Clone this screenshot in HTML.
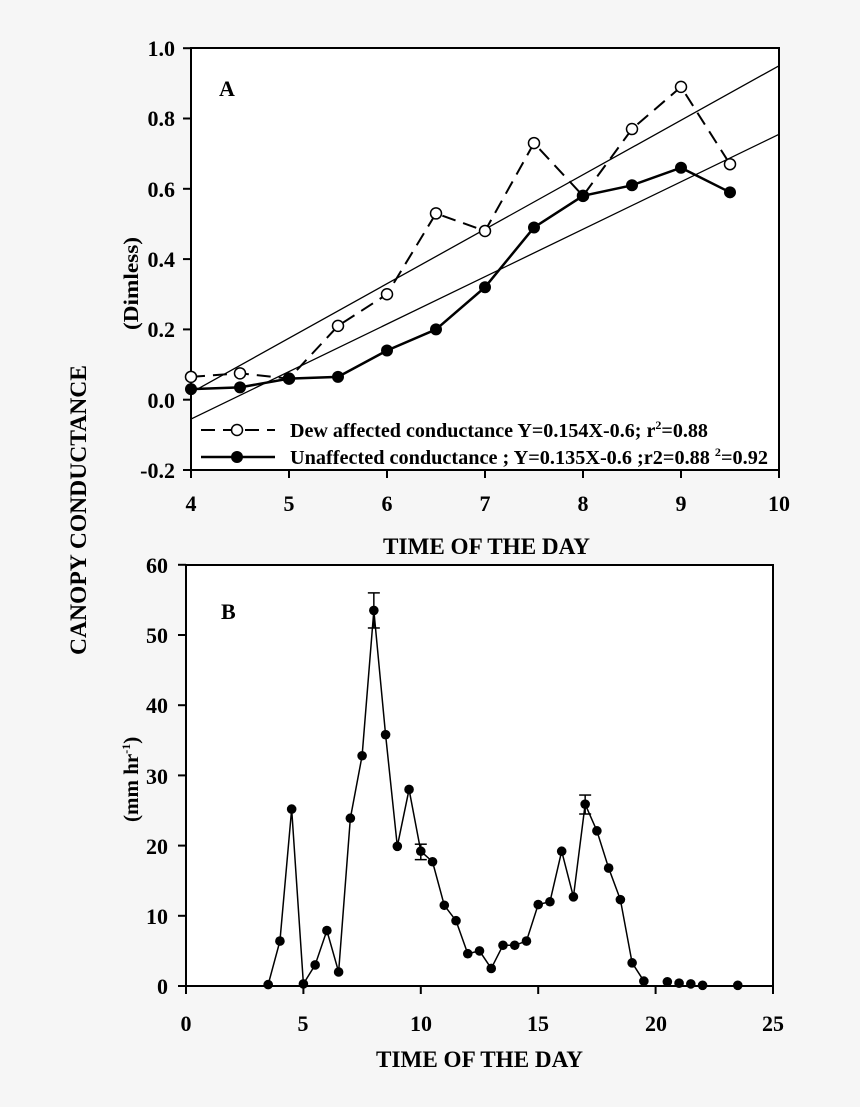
<!DOCTYPE html>
<html><head><meta charset="utf-8"><style>
html,body{margin:0;padding:0;background:#f6f6f6;}
svg{display:block;}
text{font-family:"Liberation Serif",serif;font-weight:bold;fill:#000;}
</style></head><body>
<svg id="s" width="860" height="1107" viewBox="0 0 860 1107" xmlns="http://www.w3.org/2000/svg">
<rect x="0" y="0" width="860" height="1107" fill="#f6f6f6"/>
<!-- Plot A -->
<rect x="191" y="48" width="588" height="422" fill="#fff" stroke="#000" stroke-width="2"/>
<g font-size="22" text-anchor="end">
<text x="175" y="56">1.0</text><text x="175" y="126">0.8</text><text x="175" y="197">0.6</text>
<text x="175" y="267">0.4</text><text x="175" y="337">0.2</text><text x="175" y="408">0.0</text><text x="175" y="478">-0.2</text>
</g>
<g font-size="22" text-anchor="middle">
<text x="191" y="511">4</text><text x="289" y="511">5</text><text x="387" y="511">6</text><text x="485" y="511">7</text>
<text x="583" y="511">8</text><text x="681" y="511">9</text><text x="779" y="511">10</text>
</g>
<text x="383" y="554" font-size="23" textLength="207" lengthAdjust="spacingAndGlyphs">TIME OF THE DAY</text>
<text x="219" y="96" font-size="22">A</text>
<g id="gA"></g>
<!-- legend -->
<line x1="201" y1="430" x2="275" y2="430" stroke="#000" stroke-width="2" stroke-dasharray="14,8"/>
<circle cx="237" cy="430" r="5.5" fill="#fff" stroke="#000" stroke-width="1.5"/>
<line x1="201" y1="457" x2="275" y2="457" stroke="#000" stroke-width="2.5"/>
<circle cx="237" cy="457" r="6" fill="#000"/>
<text x="290" y="437" font-size="20" textLength="418" lengthAdjust="spacingAndGlyphs">Dew affected conductance Y=0.154X-0.6; r<tspan font-size="12" dy="-8">2</tspan><tspan dy="8">=0.88</tspan></text>
<text x="290" y="464" font-size="20" textLength="478" lengthAdjust="spacingAndGlyphs">Unaffected  conductance ; Y=0.135X-0.6 ;r2=0.88 <tspan font-size="12" dy="-8">2</tspan><tspan dy="8">=0.92</tspan></text>

<!-- Plot B -->
<rect x="186" y="565" width="587" height="421" fill="#fff"/>
<path d="M186 565 H773 V986 H186 Z" fill="none" stroke="#000" stroke-width="2"/>
<g font-size="22" text-anchor="end">
<text x="168" y="573">60</text><text x="168" y="643">50</text><text x="168" y="713">40</text><text x="168" y="784">30</text>
<text x="168" y="854">20</text><text x="168" y="924">10</text><text x="168" y="994">0</text>
</g>
<g font-size="22" text-anchor="middle">
<text x="186" y="1031">0</text><text x="303" y="1031">5</text><text x="421" y="1031">10</text><text x="538" y="1031">15</text>
<text x="656" y="1031">20</text><text x="773" y="1031">25</text>
</g>
<text x="376" y="1067" font-size="23" textLength="207" lengthAdjust="spacingAndGlyphs">TIME OF THE DAY</text>
<text x="221" y="619" font-size="22">B</text>
<g id="gB"></g>
<!-- axis labels -->
<text transform="translate(86,655) rotate(-90)" font-size="23" textLength="290" lengthAdjust="spacingAndGlyphs">CANOPY CONDUCTANCE</text>
<text transform="translate(138,330) rotate(-90)" font-size="21" textLength="93" lengthAdjust="spacingAndGlyphs">(Dimless)</text>
<text transform="translate(138,822) rotate(-90)" font-size="21">(mm hr<tspan font-size="12" dy="-8">-1</tspan><tspan dy="8">)</tspan></text>
</svg>
<script>
var NS="http://www.w3.org/2000/svg";
function el(p,t,a){var e=document.createElementNS(NS,t);for(var k in a)e.setAttribute(k,a[k]);p.appendChild(e);return e;}
var gA=document.getElementById("gA"),gB=document.getElementById("gB");
function ax(x){return 191+(x-4)*98;} function ay(y){return 399.7-y*351.5;}
[0,0.2,0.4,0.6,0.8,1.0,-0.2].forEach(function(v){el(gA,"line",{x1:183,x2:191,y1:ay(v),y2:ay(v),stroke:"#000","stroke-width":2});});
for(var i=4;i<=10;i++){el(gA,"line",{x1:ax(i),x2:ax(i),y1:470,y2:478,stroke:"#000","stroke-width":2});}
el(gA,"line",{x1:ax(4),y1:ay(0.02),x2:ax(10),y2:ay(0.95),stroke:"#000","stroke-width":1.3});
el(gA,"line",{x1:ax(4),y1:ay(-0.055),x2:ax(10),y2:ay(0.755),stroke:"#000","stroke-width":1.3});
var dew=[0.065,0.075,0.06,0.21,0.30,0.53,0.48,0.73,0.58,0.77,0.89,0.67];
var un=[0.03,0.035,0.06,0.065,0.14,0.20,0.32,0.49,0.58,0.61,0.66,0.59];
function pts(a){return a.map(function(v,i){return ax(4+i*0.5)+","+ay(v);}).join(" ");}
el(gA,"polyline",{points:pts(dew),fill:"none",stroke:"#000","stroke-width":2,"stroke-dasharray":"14,8"});
el(gA,"polyline",{points:pts(un),fill:"none",stroke:"#000","stroke-width":2.5});
dew.forEach(function(v,i){el(gA,"circle",{cx:ax(4+i*0.5),cy:ay(v),r:5.5,fill:"#fff",stroke:"#000","stroke-width":1.5});});
un.forEach(function(v,i){el(gA,"circle",{cx:ax(4+i*0.5),cy:ay(v),r:6,fill:"#000"});});
function bx(x){return 186+x*23.48;} function by(y){return 986-y*7.02;}
for(var v=0;v<=60;v+=10)el(gB,"line",{x1:178,x2:186,y1:by(v),y2:by(v),stroke:"#000","stroke-width":2});
for(var x=0;x<=25;x+=5)el(gB,"line",{x1:bx(x),x2:bx(x),y1:986,y2:994,stroke:"#000","stroke-width":2});
var d=[[3.5,0.2],[4,6.4],[4.5,25.2],[5,0.3],[5.5,3],[6,7.9],[6.5,2],[7,23.9],[7.5,32.8],[8,53.5],[8.5,35.8],[9,19.9],[9.5,28],[10,19.2],[10.5,17.7],[11,11.5],[11.5,9.3],[12,4.6],[12.5,5],[13,2.5],[13.5,5.8],[14,5.8],[14.5,6.4],[15,11.6],[15.5,12],[16,19.2],[16.5,12.7],[17,25.9],[17.5,22.1],[18,16.8],[18.5,12.3],[19,3.3],[19.5,0.7]];
var ex=[[20.5,0.6],[21,0.4],[21.5,0.3],[22,0.1],[23.5,0.1]];
el(gB,"polyline",{points:d.map(function(p){return bx(p[0])+","+by(p[1]);}).join(" "),fill:"none",stroke:"#000","stroke-width":1.5});
[[8,51,56],[10,18,20.2],[17,24.5,27.2]].forEach(function(e){var x=bx(e[0]);
el(gB,"line",{x1:x,x2:x,y1:by(e[1]),y2:by(e[2]),stroke:"#000","stroke-width":1.5});
el(gB,"line",{x1:x-6,x2:x+6,y1:by(e[1]),y2:by(e[1]),stroke:"#000","stroke-width":1.5});
el(gB,"line",{x1:x-6,x2:x+6,y1:by(e[2]),y2:by(e[2]),stroke:"#000","stroke-width":1.5});});
d.concat(ex).forEach(function(p){el(gB,"circle",{cx:bx(p[0]),cy:by(p[1]),r:4.8,fill:"#000"});});
</script>
</body></html>
